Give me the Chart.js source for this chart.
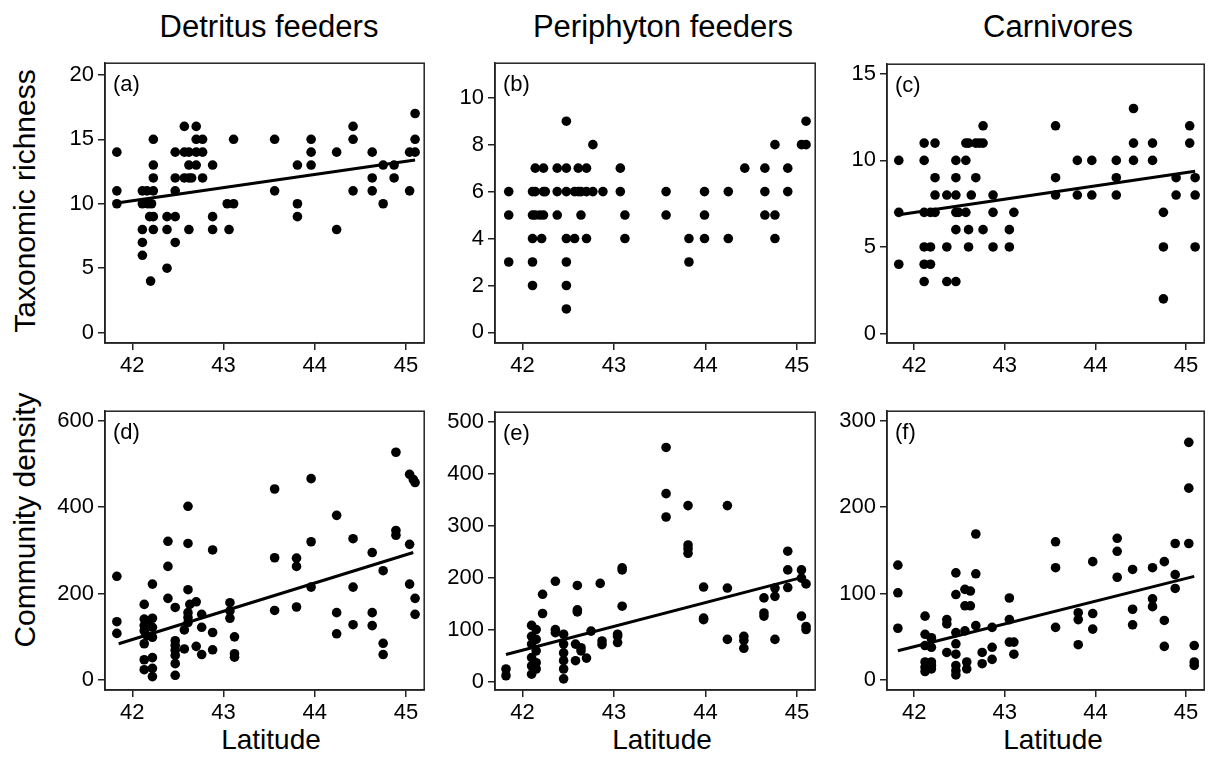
<!DOCTYPE html>
<html lang="en">
<head>
<meta charset="UTF-8">
<title>Richness and density by latitude</title>
<script src="https://cdn.jsdelivr.net/npm/chart.js"></script>
<style>
  body { margin: 0; background: #fff; font-family: "Liberation Sans", Arial, sans-serif; }
  #page { position: relative; width: 1209px; height: 762px; overflow: hidden; }
  canvas { position: absolute; }
  .lbl { position: absolute; color: #000; white-space: nowrap; transform: translate(-50%, -50%); }
  .title { font-size: 31px; }
  .axis { font-size: 28px; }
  .rot { transform: translate(-50%, -50%) rotate(-90deg); font-size: 30px; }
  .tag { position: absolute; font-size: 22px; color: #000; }
</style>
</head>
<body>
<div id="page">
  <div class="lbl title" style="left:269px; top:27px;">Detritus feeders</div>
  <div class="lbl title" style="left:663px; top:27px;">Periphyton feeders</div>
  <div class="lbl title" style="left:1058px; top:27px;">Carnivores</div>
  <div class="lbl axis rot" style="left:25px; top:201px;">Taxonomic richness</div>
  <div class="lbl axis rot" style="left:25px; top:520px;">Community density</div>
  <div class="lbl axis" style="left:271px; top:740px;">Latitude</div>
  <div class="lbl axis" style="left:662px; top:740px;">Latitude</div>
  <div class="lbl axis" style="left:1053px; top:740px;">Latitude</div>
</div>

<script>
// tick labels
const xTicks = [42, 43, 44, 45];
const richTicksA = [0, 5, 10, 15, 20];
const richTicksB = [0, 2, 4, 6, 8, 10];
const richTicksC = [0, 5, 10, 15];
const densTicksD = [0, 200, 400, 600];
const densTicksE = [0, 100, 200, 300, 400, 500];
const densTicksF = [0, 100, 200, 300];

// (a) detritus feeders, taxonomic richness
const richDetritusLat = [
  41.83, 41.83, 41.83,
  42.11, 42.11, 42.11, 42.11, 42.11,
  42.16, 42.17, 42.19, 42.21,
  42.23, 42.23, 42.23, 42.23, 42.23, 42.23, 42.20,
  42.38, 42.38, 42.38,
  42.47, 42.47, 42.47, 42.47, 42.47,
  42.57, 42.57, 42.57,
  42.62, 42.62, 42.62, 42.62, 42.65,
  42.70, 42.70, 42.70, 42.70,
  42.77, 42.77, 42.77,
  42.88, 42.88, 42.88,
  43.04, 43.06, 43.11, 43.11,
  43.56, 43.56,
  43.81, 43.81, 43.81,
  43.96, 43.96, 43.96,
  44.24, 44.24,
  44.42, 44.42, 44.42,
  44.63, 44.63, 44.63,
  44.75, 44.75,
  44.87, 44.87,
  45.04, 45.04,
  45.10, 45.10, 45.10];
const richDetritus = [
  14, 11, 10,
  11, 10, 8, 7, 6,
  11, 10, 9, 10,
  15, 13, 12, 11, 9, 8, 4,
  9, 8, 5,
  14, 12, 11, 9, 7,
  16, 14, 12,
  14, 13, 12, 8, 12,
  16, 15, 14, 13,
  15, 14, 12,
  13, 9, 8,
  10, 8, 15, 10,
  15, 11,
  13, 10, 9,
  15, 14, 13,
  14, 8,
  16, 15, 11,
  14, 12, 11,
  13, 10,
  13, 12,
  14, 11,
  17, 15, 14];
const richDetritusFitLat = [41.83, 45.10];
const richDetritusFit = [10.05, 13.4];

// (b) periphyton feeders, taxonomic richness
const richPeriLat = [
  41.85, 41.85, 41.85,
  42.11, 42.11, 42.11, 42.11, 42.11,
  42.14, 42.14, 42.14,
  42.19, 42.21,
  42.23, 42.23, 42.23, 42.25,
  42.38, 42.38, 42.38,
  42.48, 42.48, 42.48, 42.48, 42.48, 42.48, 42.48,
  42.57, 42.57,
  42.61, 42.61,
  42.64, 42.64,
  42.70, 42.70, 42.70,
  42.77, 42.77,
  42.88,
  43.07, 43.07,
  43.12, 43.12,
  43.57, 43.57,
  43.82, 43.82,
  43.99, 43.99, 43.99,
  44.25, 44.25,
  44.43,
  44.65, 44.65, 44.65,
  44.76, 44.76, 44.76,
  44.90, 44.90,
  45.05,
  45.10, 45.10];
const richPeri = [
  6, 5, 3,
  6, 5, 4, 3, 2,
  7, 6, 5,
  5, 4,
  7, 6, 5, 6,
  7, 6, 5,
  9, 7, 6, 4, 3, 2, 1,
  6, 4,
  7, 6,
  6, 5,
  7, 6, 4,
  8, 6,
  6,
  7, 6,
  5, 4,
  6, 5,
  4, 3,
  6, 5, 4,
  6, 4,
  7,
  7, 6, 5,
  8, 5, 4,
  7, 6,
  8,
  9, 8];

// (c) carnivores, taxonomic richness
const richCarnLat = [
  41.83, 41.83, 41.83,
  42.11, 42.11, 42.11, 42.11, 42.11, 42.11,
  42.18, 42.18, 42.18,
  42.23, 42.23, 42.23, 42.23,
  42.36, 42.36, 42.36,
  42.46, 42.46, 42.46, 42.46, 42.46, 42.46, 42.49,
  42.57, 42.57, 42.57,
  42.60, 42.60, 42.60, 42.63,
  42.68, 42.68, 42.72,
  42.76, 42.76, 42.76,
  42.87, 42.87, 42.87,
  43.05, 43.05, 43.10,
  43.56, 43.56, 43.56,
  43.80, 43.80,
  43.96, 43.96,
  44.23, 44.23, 44.23,
  44.42, 44.42, 44.42,
  44.63, 44.63,
  44.75, 44.75, 44.75,
  44.89, 44.89,
  45.04, 45.04,
  45.10, 45.10, 45.10];
const richCarn = [
  10, 7, 4,
  11, 10, 7, 5, 4, 3,
  7, 5, 4,
  11, 9, 8, 7,
  8, 5, 3,
  10, 9, 8, 7, 6, 3, 7,
  11, 10, 7,
  11, 6, 5, 8,
  11, 9, 11,
  12, 11, 6,
  8, 7, 5,
  6, 5, 7,
  12, 9, 8,
  10, 8,
  10, 8,
  10, 9, 8,
  13, 11, 10,
  11, 10,
  7, 5, 2,
  9, 8,
  12, 11,
  9, 8, 5];
const richCarnFitLat = [41.83, 45.10];
const richCarnFit = [6.86, 9.37];

// (d) detritus feeders, community density
const densDetritusLat = [
  41.83, 41.83, 41.83,
  42.13, 42.13, 42.13, 42.13, 42.13, 42.13, 42.13,
  42.16, 42.16,
  42.22, 42.22, 42.22, 42.22, 42.22, 42.22, 42.22,
  42.39, 42.39, 42.39,
  42.47, 42.47, 42.47, 42.47, 42.47, 42.47, 42.47,
  42.57, 42.57,
  42.61, 42.61, 42.61, 42.61, 42.61, 42.61,
  42.63,
  42.70, 42.70,
  42.76, 42.76, 42.76,
  42.88, 42.88, 42.88,
  43.07, 43.07, 43.07,
  43.12, 43.12, 43.12,
  43.56, 43.56, 43.56,
  43.80, 43.80, 43.80,
  43.96, 43.96, 43.96,
  44.24, 44.24, 44.24,
  44.42, 44.42, 44.42,
  44.63, 44.63, 44.63,
  44.75, 44.75, 44.75,
  44.89, 44.89, 44.89,
  45.04, 45.04, 45.04,
  45.08,
  45.10, 45.10, 45.10];
const densDetritus = [
  240, 135, 108,
  175, 141, 126, 114, 84, 47, 24,
  133, 103,
  222, 143, 122, 99, 52, 27, 8,
  321, 263, 189,
  168, 91, 80, 69, 57, 38, 11,
  116, 72,
  402, 316, 209, 156, 145, 133,
  175,
  181, 78,
  152, 122, 59,
  301, 110, 70,
  179, 160, 143,
  100, 61, 53,
  442, 283, 161,
  282, 263, 169,
  466, 320, 215,
  381, 156, 107,
  327, 215, 128,
  295, 156, 126,
  253, 85, 59,
  527, 346, 335,
  476, 314, 222,
  464,
  457, 189, 152];
const densDetritusFitLat = [41.85, 45.08];
const densDetritusFit = [84, 295];

// (e) periphyton feeders, community density
const densPeriLat = [
  41.82, 41.82,
  42.10, 42.10, 42.10, 42.10, 42.10, 42.10,
  42.15, 42.15, 42.15, 42.15, 42.15,
  42.22, 42.22,
  42.36, 42.36, 42.36,
  42.45, 42.45, 42.45, 42.45, 42.45, 42.45,
  42.58, 42.58,
  42.60, 42.60, 42.60,
  42.64, 42.64, 42.70,
  42.75, 42.85,
  42.87, 42.87,
  43.04, 43.04, 43.04,
  43.09, 43.09, 43.09,
  43.57, 43.57, 43.57,
  43.81, 43.81, 43.81, 43.81,
  43.98, 43.98, 43.98,
  44.24, 44.24, 44.24,
  44.42, 44.42, 44.42,
  44.64, 44.64, 44.64,
  44.76, 44.76, 44.76,
  44.90, 44.90, 44.90,
  45.05, 45.05, 45.05,
  45.10, 45.10, 45.10];
const densPeri = [
  24, 11,
  108, 87, 72, 46, 30, 14,
  100, 81, 59, 36, 24,
  168, 131,
  193, 100, 94,
  91, 72, 55, 40, 24, 5,
  72, 40,
  185, 138, 134,
  65, 59, 45,
  97, 189,
  78, 71,
  91, 87, 75,
  219, 215, 145,
  451, 362, 317,
  339, 263, 256, 247,
  182, 122, 119,
  339, 180, 81,
  87, 79, 64,
  161, 132, 126,
  180, 164, 81,
  251, 215, 181,
  215, 199, 126,
  188, 106, 100];
const densPeriFitLat = [41.82, 45.09];
const densPeriFit = [52, 202];

// (f) carnivores, community density
const densCarnLat = [
  41.82, 41.82, 41.82,
  42.12, 42.12, 42.12, 42.12, 42.12, 42.12,
  42.19, 42.19, 42.19, 42.19, 42.19, 42.19,
  42.36, 42.36, 42.36,
  42.46, 42.46, 42.46, 42.46, 42.46, 42.46, 42.46, 42.46,
  42.56, 42.56, 42.56,
  42.58, 42.58,
  42.62, 42.62,
  42.68, 42.68, 42.68,
  42.75, 42.75,
  42.86, 42.86, 42.86,
  43.05, 43.05, 43.05,
  43.10, 43.10,
  43.56, 43.56, 43.56,
  43.81, 43.81, 43.81,
  43.97, 43.97, 43.97,
  44.24, 44.24, 44.24,
  44.41, 44.41, 44.41,
  44.63, 44.63, 44.63,
  44.76, 44.76, 44.76,
  44.88, 44.88, 44.88,
  45.03, 45.03, 45.03,
  45.09, 45.09, 45.09];
const densCarn = [
  133, 101, 60,
  74, 53, 40, 21, 15, 10,
  48, 49, 38, 17, 21, 13,
  70, 65, 32,
  124, 99, 55, 42, 30, 17, 11, 6,
  105, 86, 57,
  21, 13,
  103, 86,
  169, 123, 63,
  32, 19,
  61, 38, 24,
  95, 70, 44,
  44, 30,
  160, 130, 61,
  78, 70, 41,
  137, 77, 59,
  164, 149, 119,
  128, 82, 64,
  130, 94, 85,
  137, 69, 39,
  158, 122, 106,
  275, 222, 158,
  40, 21, 17];
const densCarnFitLat = [41.82, 45.09];
const densCarnFit = [34, 120];

function pairs(xs, ys) {
  const out = [];
  for (let i = 0; i < Math.min(xs.length, ys.length); i++) out.push({ x: xs[i], y: ys[i] });
  return out;
}

// draws the closed box round the plot area
const framePlugin = {
  id: 'frame',
  afterDatasetsDraw(chart) {
    const a = chart.chartArea, ctx = chart.ctx;
    ctx.save();
    ctx.strokeStyle = '#222';
    ctx.lineWidth = 1.5;
    ctx.strokeRect(a.left, a.top, a.right - a.left, a.bottom - a.top);
    ctx.restore();
  }
};

const panels = [
  { tag: '(a)', box: [105, 60, 322, 283], lat: richDetritusLat, val: richDetritus, fitLat: richDetritusFitLat, fit: richDetritusFit, ymin: -0.8, ymax: 20.9, yt: richTicksA },
  { tag: '(b)', box: [495, 60, 323, 283], lat: richPeriLat, val: richPeri, ymin: -0.45, ymax: 11.47, yt: richTicksB },
  { tag: '(c)', box: [887, 61, 320, 282], lat: richCarnLat, val: richCarn, fitLat: richCarnFitLat, fit: richCarnFit, ymin: -0.55, ymax: 15.56, yt: richTicksC },
  { tag: '(d)', box: [105, 408, 322, 282], lat: densDetritusLat, val: densDetritus, fitLat: densDetritusFitLat, fit: densDetritusFit, ymin: -23, ymax: 622, yt: densTicksD },
  { tag: '(e)', box: [495, 409, 323, 281], lat: densPeriLat, val: densPeri, fitLat: densPeriFitLat, fit: densPeriFit, ymin: -16.5, ymax: 519, yt: densTicksE },
  { tag: '(f)', box: [887, 408, 320, 282], lat: densCarnLat, val: densCarn, fitLat: densCarnFitLat, fit: densCarnFit, ymin: -11.4, ymax: 311, yt: densTicksF }
];

const page = document.getElementById('page');
const padL = 70, padT = 14, padR = 2, padB = 50;

panels.forEach(function(p) {
  const [bx, by, bw, bh] = p.box;
  const canvas = document.createElement('canvas');
  canvas.width = bw + padL + padR;
  canvas.height = bh + padT + padB;
  canvas.style.left = (bx - padL) + 'px';
  canvas.style.top = (by - padT) + 'px';
  page.appendChild(canvas);

  const tag = document.createElement('div');
  tag.className = 'tag';
  tag.textContent = p.tag;
  tag.style.left = (bx + 8) + 'px';
  tag.style.top = (by + 11) + 'px';
  page.appendChild(tag);

  const datasets = [{
    data: pairs(p.lat, p.val),
    pointRadius: 4.8,
    pointHoverRadius: 4.8,
    backgroundColor: '#000',
    borderWidth: 0
  }];
  if (p.fit) {
    datasets.push({
      data: pairs(p.fitLat, p.fit),
      showLine: true,
      borderColor: '#000',
      borderWidth: 3,
      pointRadius: 0
    });
  }

  const tickStyle = { color: '#000', font: { family: '"Liberation Sans", Arial, sans-serif', size: 22 } };

  new Chart(canvas, {
    type: 'scatter',
    data: { datasets: datasets },
    options: {
      responsive: false,
      animation: false,
      devicePixelRatio: 1,
      layout: { padding: { top: padT, right: padR, left: 0, bottom: 0 } },
      plugins: { legend: { display: false }, tooltip: { enabled: false } },
      scales: {
        x: {
          type: 'linear', min: 41.7, max: 45.2,
          afterBuildTicks: function(s) { s.ticks = xTicks.map(v => ({ value: v })); },
          afterFit: function(s) { s.height = padB; },
          grid: { drawOnChartArea: false, tickLength: 7, color: '#222', lineWidth: 1.5 },
          border: { color: '#222', width: 1.5 },
          ticks: Object.assign({ padding: 3, maxRotation: 0, autoSkip: false }, tickStyle)
        },
        y: {
          type: 'linear', min: p.ymin, max: p.ymax,
          afterBuildTicks: function(s) { s.ticks = p.yt.map(v => ({ value: v })); },
          afterFit: function(s) { s.width = padL; },
          grid: { drawOnChartArea: false, tickLength: 7, color: '#222', lineWidth: 1.5 },
          border: { color: '#222', width: 1.5 },
          ticks: Object.assign({ padding: 4, autoSkip: false }, tickStyle)
        }
      }
    },
    plugins: [framePlugin]
  });
});
</script>
</body>
</html>
